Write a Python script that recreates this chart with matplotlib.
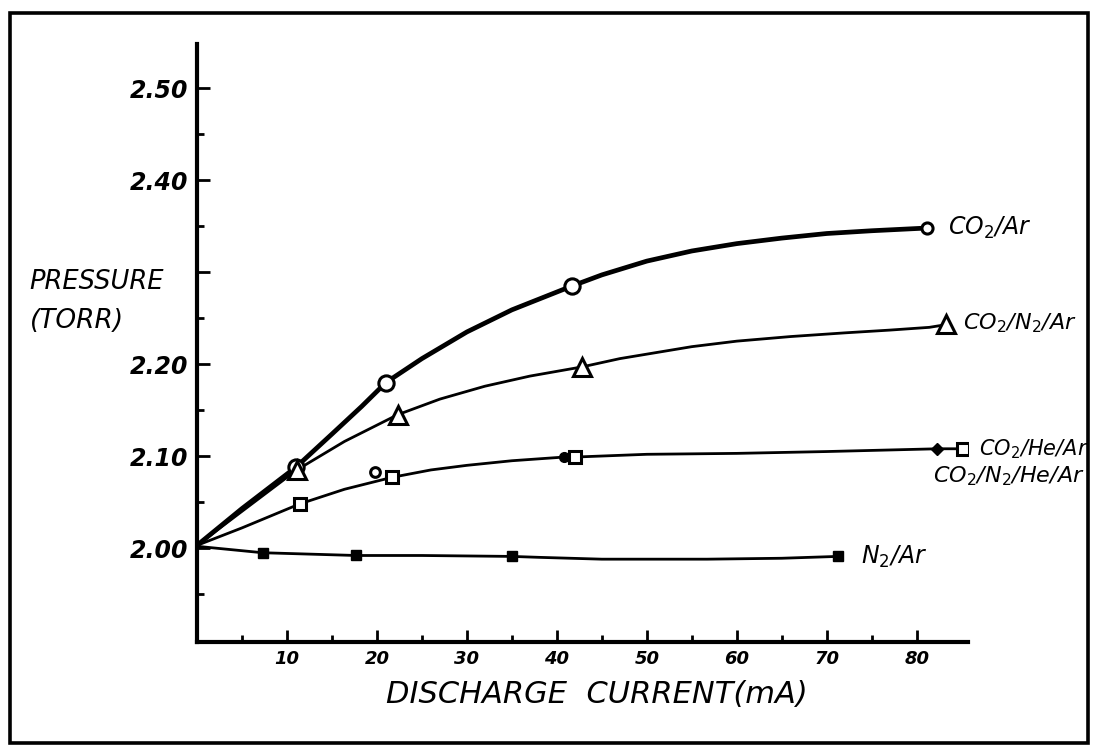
import matplotlib
matplotlib.use("Agg")
import matplotlib.pyplot as plt
from matplotlib.patches import Rectangle

# measured points (discharge current in mA, pressure in torr)
co2_ar_x = [11.0, 21.0, 41.7, 81.2]
co2_ar_y = [2.088, 2.180, 2.285, 2.348]
co2_n2_ar_x = [11.1, 22.3, 42.8, 83.3]
co2_n2_ar_y = [2.085, 2.145, 2.197, 2.244]
co2_he_ar_x = [11.4, 21.7, 42.0, 85.1]
co2_he_ar_y = [2.048, 2.077, 2.099, 2.108]
co2_n2_he_ar_x = [19.8, 40.8, 82.3]
co2_n2_he_ar_y = [2.083, 2.099, 2.108]
n2_ar_x = [7.3, 17.7, 35.0, 71.2]
n2_ar_y = [1.995, 1.992, 1.991, 1.991]

# hand-drawn curves through the points
co2_ar_cx = [0, 5, 11.0, 15, 18.3, 21.0, 25, 30, 35, 41.7, 45, 50, 55, 60, 65, 70, 75, 81.2]
co2_ar_cy = [2.003, 2.043, 2.088, 2.124, 2.154, 2.180, 2.206, 2.235, 2.259, 2.285,
             2.297, 2.312, 2.323, 2.331, 2.337, 2.342, 2.345, 2.348]
co2_n2_ar_cx = [0, 5, 11.1, 16.4, 22.3, 27, 32, 37, 42.8, 47, 55, 60, 66, 72, 77, 81.4, 83.3]
co2_n2_ar_cy = [2.003, 2.040, 2.085, 2.116, 2.145, 2.162, 2.176, 2.187, 2.197, 2.206,
                2.219, 2.225, 2.230, 2.234, 2.237, 2.240, 2.243]
co2_he_ar_cx = [0, 5, 11.4, 16.4, 21.7, 26, 30, 35, 40.8, 42.0, 50, 60, 70, 82.3, 85.1]
co2_he_ar_cy = [2.003, 2.022, 2.048, 2.064, 2.077, 2.085, 2.090, 2.095, 2.099, 2.099,
                2.102, 2.103, 2.105, 2.108, 2.108]
n2_ar_cx = [0, 7.3, 17.7, 25, 35.0, 38, 45, 56.7, 65, 71.2]
n2_ar_cy = [2.002, 1.995, 1.992, 1.992, 1.991, 1.990, 1.988, 1.988, 1.989, 1.991]

y_ticks = [2.00, 2.10, 2.20, 2.30, 2.40, 2.50]
y_tick_labels = ["2.00", "2.10", "2.20", "", "2.40", "2.50"]
y_minor = [1.95, 2.05, 2.15, 2.25, 2.35, 2.45]
x_ticks = [10, 20, 30, 40, 50, 60, 70, 80]
x_minor = [5, 15, 25, 35, 45, 55, 65, 75]

fig = plt.figure(figsize=(10.95, 7.47), dpi=100)
ax = fig.add_axes([0.1799, 0.1406, 0.7041, 0.8005])

# outer frame
fig.patches.append(Rectangle((0.009, 0.006), 0.985, 0.976, transform=fig.transFigure,
                             fill=False, lw=2.6, ec="black"))

k = "black"
ax.plot(co2_ar_cx, co2_ar_cy, color=k, lw=3.4, solid_capstyle="round", solid_joinstyle="round")
ax.plot(co2_n2_ar_cx, co2_n2_ar_cy, color=k, lw=2.0, solid_joinstyle="round")
ax.plot(co2_he_ar_cx, co2_he_ar_cy, color=k, lw=2.0, solid_joinstyle="round")
ax.plot(n2_ar_cx, n2_ar_cy, color=k, lw=2.0, solid_joinstyle="round")

open_mk = dict(mfc="white", mec=k, mew=2.2, ls="none")
ax.plot(co2_ar_x[:-1], co2_ar_y[:-1], "o", ms=11, **open_mk)
ax.plot(co2_ar_x[-1:], co2_ar_y[-1:], "o", ms=8, **open_mk)
ax.plot(co2_n2_ar_x, co2_n2_ar_y, "^", ms=13, **open_mk)
ax.plot(co2_he_ar_x, co2_he_ar_y, "s", ms=9, **open_mk)
ax.plot(co2_n2_he_ar_x[:1], co2_n2_he_ar_y[:1], "o", ms=7, **open_mk)
ax.plot(co2_n2_he_ar_x[1:-1], co2_n2_he_ar_y[1:-1], "o", ms=7, mfc=k, mec=k, ls="none")
ax.plot(co2_n2_he_ar_x[-1:], co2_n2_he_ar_y[-1:], "D", ms=6, mfc=k, mec=k, ls="none")
ax.plot(n2_ar_x, n2_ar_y, "s", ms=7, mfc=k, mec=k, ls="none")

lab = dict(fontstyle="oblique", color=k, va="center", ha="left",
           textcoords="offset points", annotation_clip=False)
ax.annotate(r"CO$_2$/Ar", (co2_ar_x[-1], co2_ar_y[-1]), xytext=(15, 0), fontsize=17, **lab)
ax.annotate(r"CO$_2$/N$_2$/Ar", (co2_n2_ar_x[-1], co2_n2_ar_y[-1]), xytext=(12, 0),
            fontsize=16, **lab)
ax.annotate(r"CO$_2$/He/Ar", (co2_he_ar_x[-1], co2_he_ar_y[-1]), xytext=(12, 0),
            fontsize=15, **lab)
ax.annotate(r"CO$_2$/N$_2$/He/Ar", (co2_n2_he_ar_x[-1], co2_n2_he_ar_y[-1]),
            xytext=(-3, -20), fontsize=16, **lab)
ax.annotate(r"N$_2$/Ar", (n2_ar_x[-1], n2_ar_y[-1]), xytext=(17, 0), fontsize=17, **lab)

ax.set_xlim(0, 85.7)
ax.set_ylim(1.898, 2.548)
for s in ["top", "right"]:
    ax.spines[s].set_visible(False)
for s in ["left", "bottom"]:
    ax.spines[s].set_linewidth(3.0)

ax.set_yticks(y_ticks)
ax.set_yticklabels(y_tick_labels)
ax.set_yticks(y_minor, minor=True)
ax.set_xticks(x_ticks)
ax.set_xticks(x_minor, minor=True)
ax.tick_params(which="major", direction="in", length=9, width=2.0)
ax.tick_params(which="minor", direction="in", length=5, width=2.0)
ax.tick_params(axis="y", which="major", pad=6)
ax.tick_params(axis="x", which="major", pad=6)
for t in ax.get_yticklabels():
    t.set_fontsize(17)
    t.set_fontweight("bold")
    t.set_fontstyle("oblique")
for t in ax.get_xticklabels():
    t.set_fontsize(13)
    t.set_fontweight("bold")
    t.set_fontstyle("oblique")

fig.text(0.027, 0.6225, "PRESSURE", fontsize=18.5, fontstyle="oblique", va="center", ha="left")
fig.text(0.027, 0.570, "(TORR)", fontsize=19, fontstyle="oblique", va="center", ha="left")
fig.text(0.545, 0.070, "DISCHARGE  CURRENT(mA)", fontsize=22, fontstyle="oblique",
         va="center", ha="center")

fig.savefig("out.png", dpi=100)
